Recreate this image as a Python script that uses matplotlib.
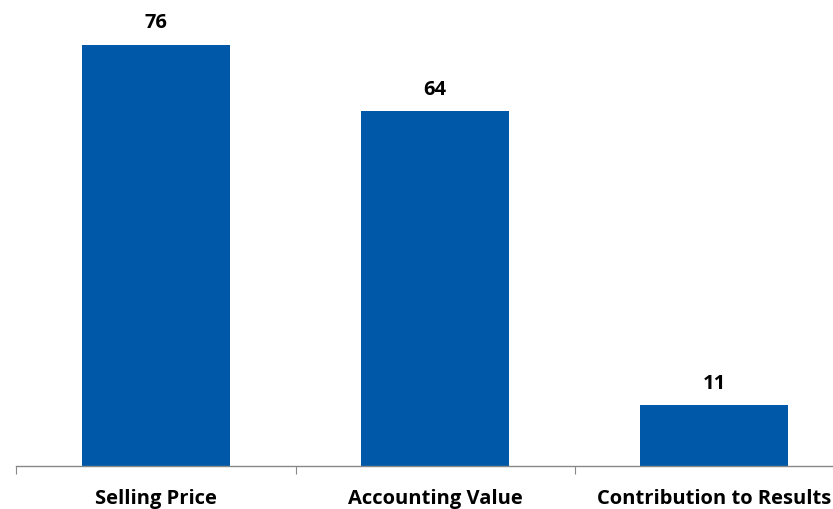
import matplotlib.pyplot as plt

categories = ['Selling Price', 'Accounting Value', 'Contribution to Results']
values = [76, 64, 11]

fig = plt.figure(figsize=(8.33, 5.1), dpi=100)
ax = fig.add_axes([0.0198, 0.0843, 1.0054, 0.869])

x = range(len(categories))
bars = ax.bar(x, values, width=0.53, color='#0058a8')

for b, v in zip(bars, values):
    ax.annotate(str(v), (b.get_x() + b.get_width() / 2, v),
                xytext=(0, 9), textcoords='offset points',
                ha='center', va='bottom', fontsize=14.5, fontweight='bold',
                family='Open Sans')

ax.set_xlim(-0.5, 2.5)
ax.set_ylim(0, 80)
ax.set_xticks([-0.5, 0.5, 1.5, 2.5])
ax.set_xticklabels([])
ax.set_xticks(list(x), minor=True)
ax.set_xticklabels(categories, minor=True, fontsize=14.5, fontweight='bold',
                   family='Open Sans')
ax.tick_params(axis='x', which='major', length=6, color='#888888', direction='out')
ax.tick_params(axis='x', which='minor', length=0, pad=16)
ax.set_yticks([])
for s in ['top', 'right', 'left']:
    ax.spines[s].set_visible(False)
ax.spines['bottom'].set_color('#888888')
ax.spines['bottom'].set_linewidth(1.0)

fig.savefig('out.png', dpi=100)
